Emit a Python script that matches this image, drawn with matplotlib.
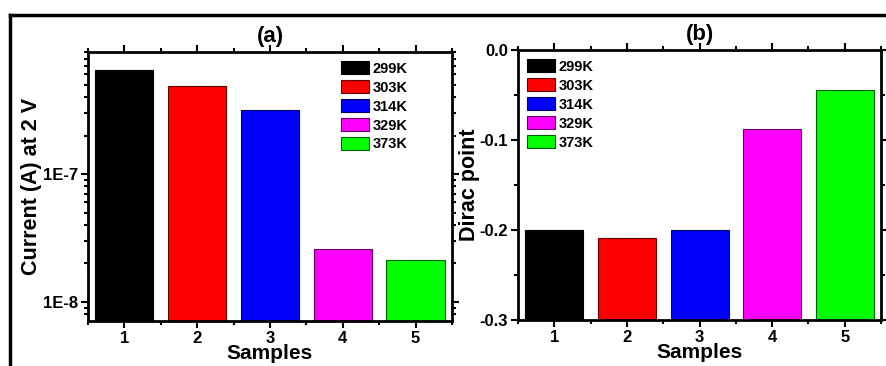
import numpy as np
import matplotlib
matplotlib.use('Agg')
import matplotlib.pyplot as plt
from matplotlib.lines import Line2D
from matplotlib.ticker import FixedLocator, LogLocator, MultipleLocator, FuncFormatter, NullFormatter

plt.rcParams['font.family'] = ['Liberation Sans', 'DejaVu Sans']
plt.rcParams['font.weight'] = 'bold'

samples = [1, 2, 3, 4, 5]
temps = ['299K', '303K', '314K', '329K', '373K']
colors = ['#000000', '#ff0000', '#0000ff', '#ff00ff', '#00ff00']
edges = ['#000000', '#600000', '#000060', '#600060', '#006000']
current = [6.5e-7, 4.9e-7, 3.15e-7, 2.58e-8, 2.12e-8]
dirac = [-0.200, -0.209, -0.200, -0.088, -0.044]

fig = plt.figure(figsize=(8.86, 3.66), dpi=100)
ax1 = fig.add_axes([0.0993, 0.123, 0.4108, 0.735])
ax2 = fig.add_axes([0.5847, 0.1257, 0.4097, 0.7377])

# outer frame of the figure (top and left only)
fig.add_artist(Line2D([9.5 / 886, 1.0], [1 - 14.5 / 366, 1 - 14.5 / 366], color='black', lw=2.5))
fig.add_artist(Line2D([9.5 / 886, 9.5 / 886], [0, 1 - 14.5 / 366], color='black', lw=2.5))

# (a) current on log scale
for s, c, e, t, v in zip(samples, colors, edges, temps, current):
    ax1.bar(s, v, width=0.8, color=c, edgecolor=e, linewidth=0.8, label=t)
ax1.set_yscale('log')
ax1.set_ylim(7.1e-9, 9.0e-7)
ax1.yaxis.set_major_locator(FixedLocator([1e-8, 1e-7]))
ax1.yaxis.set_major_formatter(FuncFormatter(lambda v, p: '1E-8' if v < 5e-8 else '1E-7'))
ax1.yaxis.set_minor_locator(LogLocator(base=10, subs=np.arange(2, 10)))
ax1.yaxis.set_minor_formatter(NullFormatter())
ax1.set_ylabel('Current (A) at 2 V', fontsize=15.5, fontweight='bold', labelpad=1)
ax1.set_title('(a)', fontsize=16, fontweight='bold', pad=7)

# (b) Dirac point, bars rise from the bottom of the axis
for s, c, e, t, v in zip(samples, colors, edges, temps, dirac):
    ax2.bar(s, v + 0.3, bottom=-0.3, width=0.8, color=c, edgecolor=e, linewidth=0.8, label=t)
ax2.set_ylim(-0.3, 0.0)
ax2.yaxis.set_major_locator(MultipleLocator(0.1))
ax2.yaxis.set_minor_locator(MultipleLocator(0.05))
ax2.yaxis.set_major_formatter(FuncFormatter(lambda v, p: '0.0' if abs(v) < 1e-9 else '%.1f' % v))
ax2.set_ylabel('Dirac point', fontsize=15.5, fontweight='bold', labelpad=0)
ax2.set_title('(b)', fontsize=16, fontweight='bold', pad=7)

for ax in (ax1, ax2):
    ax.set_xlim(0.5, 5.5)
    ax.set_xticks(samples)
    ax.xaxis.set_minor_locator(MultipleLocator(0.5))
    ax.set_xlabel('Samples', fontsize=15, fontweight='bold', labelpad=-1)
    for sp in ax.spines.values():
        sp.set_linewidth(2)
    ax.tick_params(which='both', direction='out', top=True, right=True, width=1.5)
    ax.tick_params(which='major', length=5, labelsize=12, pad=2)
    ax.tick_params(which='minor', length=3)
    for lab in ax.get_xticklabels() + ax.get_yticklabels():
        lab.set_fontweight('bold')

ax1.legend(loc='upper left', bbox_to_anchor=(0.695, 0.965), frameon=False,
           handlelength=1.9, handleheight=1.0, labelspacing=0.3, handletextpad=0.25,
           borderpad=0, borderaxespad=0, prop={'weight': 'bold', 'size': 10.5})
ax2.legend(loc='upper left', bbox_to_anchor=(0.025, 0.965), frameon=False,
           handlelength=1.9, handleheight=1.0, labelspacing=0.3, handletextpad=0.25,
           borderpad=0, borderaxespad=0, prop={'weight': 'bold', 'size': 10.5})

fig.savefig('out.png', dpi=100)
